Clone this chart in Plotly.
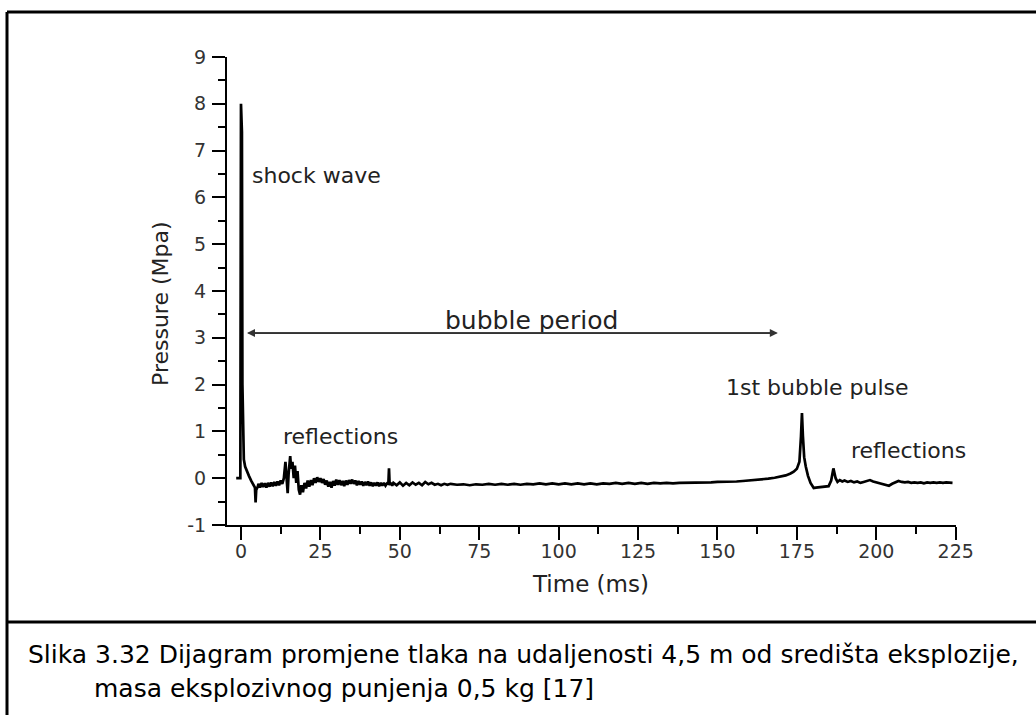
import plotly.graph_objects as go

# ---- data ----
time_ms = [
    -1.5, -0.2, 0.0, 0.3, 0.45, 0.6, 0.9, 1.3, 1.8, 2.5, 3.2, 4.0, 4.4, 4.6, 4.8, 5.3,
    5.5, 6.0, 6.5, 7.0, 7.5, 8.0, 8.5, 9.0, 9.5, 10.0, 10.5, 11.0, 11.5, 12.0, 12.5, 13.0,
    13.5, 14.0, 14.3, 14.7, 15.0, 15.5, 15.8, 16.2, 16.6, 17.0, 17.4, 17.8, 18.2, 18.6,
    19.0, 19.5, 20.0, 20.5, 21.0, 21.5, 22.0, 22.5, 23.0, 23.5, 24.0, 24.5, 25.0, 25.5,
    26.0, 26.5, 27.0, 27.5, 28.0, 28.5, 29.0, 29.5, 30.0, 30.5, 31.0, 31.5, 32.0, 32.5,
    33.0, 33.5, 34.0, 34.5, 35.0, 35.5, 36.0, 36.5, 37.0, 37.5, 38.0, 38.5, 39.0, 39.5,
    40.0, 40.5, 41.0, 41.5, 42.0, 42.5, 43.0, 43.5, 44.0, 44.5, 45.0, 45.5, 46.0, 46.4,
    46.6, 46.8, 47.2, 47.6, 48.0, 49.0, 50.0, 51.0, 52.0, 53.0, 54.0, 55.0, 56.0, 57.0,
    58.0, 59.0, 60.0, 61.0, 62.0, 63.0, 64.0, 65.0, 66.0, 68.0, 70.0, 72.0, 74.0, 76.0,
    78.0, 80.0, 82.0, 84.0, 86.0, 88.0, 90.0, 92.0, 94.0, 96.0, 98.0, 100.0, 102.0,
    104.0, 106.0, 108.0, 110.0, 112.0, 114.0, 116.0, 118.0, 120.0, 122.0, 124.0, 126.0,
    128.0, 130.0, 132.0, 134.0, 136.0, 138.0, 140.0, 142.0, 144.0, 146.0, 148.0, 150.0,
    152.0, 154.0, 156.0, 158.0, 160.0, 162.0, 164.0, 166.0, 168.0, 170.0, 171.5, 173.0,
    174.0, 175.0, 175.8, 176.3, 176.6, 176.9, 177.3, 177.8, 178.5, 179.3, 180.3, 181.0,
    182.0, 183.0, 184.0, 185.0, 185.8, 186.5, 187.2, 187.8, 188.5, 189.3, 190.0, 191.0,
    192.0, 193.0, 194.0, 195.0, 196.0, 197.0, 198.0, 199.0, 200.0, 201.0, 202.0, 203.0,
    204.0, 205.0, 206.0, 207.0, 208.0, 209.0, 210.0, 211.0, 212.0, 213.0, 214.0, 215.0,
    216.0, 217.0, 218.0, 219.0, 220.0, 221.0, 222.0, 223.0, 224.0,
]
pressure_mpa = [
    0.0, 0.0, 8.0, 7.4, 2.0, 0.9, 0.4, 0.25, 0.15, 0.05, -0.05, -0.15, -0.2, -0.52, -0.25, -0.18,
    -0.12, -0.2, -0.1, -0.19, -0.11, -0.2, -0.1, -0.18, -0.09, -0.17, -0.08, -0.16, -0.07, -0.15, -0.05, -0.12,
    0.0, 0.35, -0.05, -0.32, 0.1, 0.47, 0.2, 0.35, 0.0, 0.27, -0.1, 0.15, -0.25, -0.35,
    -0.15, -0.3, -0.1, -0.22, -0.05, -0.18, -0.04, -0.15, 0.0, -0.1, 0.02, -0.08, 0.0, -0.1,
    -0.02, -0.14, -0.05, -0.18, -0.08, -0.2, -0.06, -0.16, -0.03, -0.14, -0.04, -0.15, -0.06, -0.17,
    -0.05, -0.14, -0.04, -0.12, -0.03, -0.12, -0.05, -0.15, -0.06, -0.14, -0.07, -0.16, -0.08, -0.15,
    -0.07, -0.16, -0.09, -0.17, -0.1, -0.16, -0.09, -0.17, -0.1, -0.16, -0.1, -0.16, -0.11, -0.12,
    0.21, -0.14, -0.1, -0.16, -0.1, -0.15, -0.09, -0.16, -0.1, -0.15, -0.09, -0.14, -0.1, -0.15,
    -0.08, -0.13, -0.1, -0.14, -0.12, -0.15, -0.12, -0.14, -0.12, -0.14, -0.13, -0.15, -0.13, -0.14,
    -0.12, -0.14, -0.12, -0.14, -0.12, -0.14, -0.12, -0.13, -0.11, -0.13, -0.11, -0.13, -0.11,
    -0.13, -0.11, -0.13, -0.11, -0.13, -0.11, -0.12, -0.1, -0.12, -0.1, -0.12, -0.1,
    -0.12, -0.1, -0.11, -0.1, -0.11, -0.1, -0.1, -0.1, -0.1, -0.09, -0.09, -0.08,
    -0.08, -0.07, -0.07, -0.06, -0.05, -0.04, -0.03, -0.01, 0.01, 0.03, 0.06, 0.1,
    0.14, 0.2, 0.35, 0.9, 1.39, 0.9, 0.45, 0.25, 0.05, -0.1, -0.21, -0.2,
    -0.19, -0.18, -0.18, -0.17, -0.05, 0.21, 0.0, -0.08, -0.04, -0.07, -0.05, -0.08,
    -0.06, -0.09, -0.07, -0.1, -0.08, -0.06, -0.04, -0.07, -0.09, -0.1, -0.12, -0.14,
    -0.16, -0.12, -0.09, -0.06, -0.08, -0.09, -0.08, -0.1, -0.09, -0.1, -0.09, -0.11,
    -0.09, -0.1, -0.09, -0.1, -0.09, -0.1, -0.09, -0.1, -0.1,
]
x_ticks = [0, 25, 50, 75, 100, 125, 150, 175, 200, 225]
y_ticks = [-1, 0, 1, 2, 3, 4, 5, 6, 7, 8, 9]
y_tick_text = ["-1", "0", "1", "2", "3", "4", "5", "6", "7", "8", "9"]
x_title = "Time (ms)"
y_title = "Pressure (Mpa)"
labels = ["shock wave", "bubble period", "reflections", "1st bubble pulse", "reflections"]
label_x = [2.8, 91.6, 31.2, 181.4, 210.0]
label_y = [6.47, 3.38, 0.9, 1.94, 0.6]
label_size = [22, 25, 22, 22, 22]
period_start, period_end, period_level = 1.9, 169.0, 3.1
caption_1 = "Slika 3.32 Dijagram promjene tlaka na udaljenosti 4,5 m od središta eksplozije,"
caption_2 = "masa eksplozivnog punjenja 0,5 kg [17]"

W, H = 1036, 715
FONT = "DejaVu Sans"

fig = go.Figure()
fig.add_trace(go.Scatter(x=time_ms, y=pressure_mpa, mode="lines",
                         line=dict(color="black", width=2.7), hoverinfo="skip"))

axis_common = dict(showline=True, linecolor="black", linewidth=2, ticks="outside",
                   ticklen=13, tickwidth=2, tickcolor="black", showgrid=False,
                   zeroline=False, automargin=False,
                   tickfont=dict(family=FONT, size=19, color="#333"))
fig.update_xaxes(range=[-4.4, 225], domain=[227 / W, 955.7 / W], tickvals=x_ticks,
                 ticklabelstandoff=-5,
                 minor=dict(dtick=12.5, tick0=0, ticks="outside", ticklen=7,
                            tickwidth=2, tickcolor="black"), **axis_common)
fig.update_yaxes(range=[-1, 9], domain=[(H - 525) / H, (H - 57) / H], tickvals=y_ticks,
                 ticktext=y_tick_text, ticklabelstandoff=2,
                 minor=dict(dtick=0.5, tick0=0, ticks="outside", ticklen=7,
                            tickwidth=2, tickcolor="black"), **axis_common)

ann = []
ann.append(dict(text=x_title, x=590 / W, y=1 - 584 / H, xref="paper", yref="paper",
                xanchor="center", yanchor="middle",
                showarrow=False, font=dict(family=FONT, size=23, color="#222")))
ann.append(dict(text=y_title, x=160 / W, y=1 - 304 / H, xref="paper", yref="paper",
                xanchor="center", yanchor="middle",
                showarrow=False, textangle=-90, font=dict(family=FONT, size=22, color="#222")))
anchors = ["left", "center", "center", "center", "center"]
for t, lx, ly, a, s in zip(labels, label_x, label_y, anchors, label_size):
    ann.append(dict(text=t, x=lx, y=ly, xref="x", yref="y", xanchor=a, yanchor="middle",
                    showarrow=False, font=dict(family=FONT, size=s, color="#222")))
for start, end in ((period_end, period_start), (period_start, period_end)):
    ann.append(dict(text="", x=end, y=period_level, ax=start, ay=period_level,
                    xref="x", yref="y", axref="x", ayref="y", showarrow=True,
                    arrowhead=2, arrowsize=1, arrowwidth=1.6, arrowcolor="#333"))
ann.append(dict(text=caption_1, x=26 / W, y=1 - 654 / H, xref="paper", yref="paper",
                xanchor="left", yanchor="middle", showarrow=False,
                font=dict(family=FONT, size=25, color="black")))
ann.append(dict(text=caption_2, x=92 / W, y=1 - 688 / H, xref="paper", yref="paper",
                xanchor="left", yanchor="middle", showarrow=False,
                font=dict(family=FONT, size=25, color="black")))

shapes = [
    dict(type="line", xref="paper", yref="paper", x0=7 / W, x1=1, y0=1 - 12 / H, y1=1 - 12 / H,
         line=dict(color="black", width=3)),
    dict(type="line", xref="paper", yref="paper", x0=7 / W, x1=7 / W, y0=0, y1=1 - 12 / H,
         line=dict(color="black", width=3)),
    dict(type="line", xref="paper", yref="paper", x0=7 / W, x1=1, y0=1 - 622 / H, y1=1 - 622 / H,
         line=dict(color="black", width=3)),
]

fig.update_layout(width=W, height=H, margin=dict(l=0, r=0, t=0, b=0, autoexpand=False),
                  paper_bgcolor="white", plot_bgcolor="white", showlegend=False,
                  annotations=ann, shapes=shapes)
fig.write_html(
    "out.html",
    config={"displayModeBar": False},
    post_script=("document.documentElement.style.margin='0';"
                 "document.documentElement.style.overflow='hidden';"
                 "document.body.style.margin='0';document.body.style.overflow='hidden';"),
)
